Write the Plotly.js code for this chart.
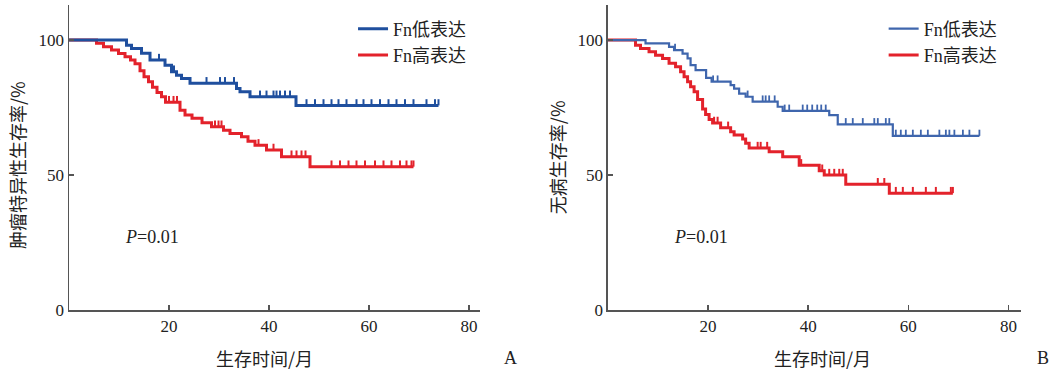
<!DOCTYPE html>
<html>
<head>
<meta charset="utf-8">
<script src="https://cdn.plot.ly/plotly-3.0.1.min.js"></script>
<style>html,body{margin:0;padding:0;background:#fff;}#chart{width:1057px;height:375px;}</style>
</head>
<body>
<div id="chart"></div>
<script>
// ---------- Data ----------
const seriesNames = ["Fn低表达", "Fn高表达"];
const xTickVals = [20, 40, 60, 80];
const yTickVals = [0, 50, 100];
const pLabel = "P=0.01";

// Panel A: 肿瘤特异性生存率
const A_low_times = [11.5, 12.5, 14.5, 16.2, 19.2, 20.5, 21.5, 22.5, 24.2, 33.5, 34.2, 36.2, 45.4];
const A_low_surv  = [98.1, 96.9, 95.1, 92.6, 90.7, 88.3, 87.0, 85.8, 84.0, 82.1, 80.9, 79.0, 75.8];
const A_low_censor = [18.0, 21.0, 27.5, 30.2, 31.2, 33.0, 38.2, 39.5, 40.9, 41.5, 42.2, 43.2, 44.2,
  47.5, 49.2, 50.9, 52.5, 53.9, 55.5, 57.5, 58.9, 60.5, 62.2, 63.9, 65.5, 67.2, 68.9, 71.5, 73.2, 73.9];

const A_high_times = [5.5, 6.9, 8.5, 9.9, 11.2, 12.3, 13.2, 14.2, 15.0, 15.9, 16.7, 17.6, 18.5, 19.3,
  22.2, 23.2, 24.6, 26.6, 28.5, 30.9, 32.2, 34.5, 35.8, 37.2, 39.5, 42.5, 48.2];
const A_high_surv  = [98.8, 97.5, 96.3, 95.0, 93.8, 92.6, 91.2, 88.6, 86.4, 84.6, 82.5, 80.6, 79.0, 77.0,
  74.0, 72.2, 71.0, 69.4, 67.9, 66.6, 65.4, 64.2, 62.5, 61.0, 59.3, 56.8, 53.1];
const A_high_censor = [20.0, 20.9, 21.6, 29.2, 29.9, 30.5, 37.9, 40.9, 44.5, 45.5, 46.5, 47.3,
  52.5, 54.2, 55.9, 57.5, 59.2, 61.2, 62.9, 64.5, 66.2, 67.5, 68.5, 68.9];

// Panel B: 无病生存率
const B_low_times = [7.5, 12.2, 13.2, 14.9, 15.9, 16.5, 17.5, 19.6, 20.7, 24.5, 25.2, 26.2, 27.5, 28.9, 33.9, 34.9, 44.2, 45.9, 56.9];
const B_low_surv  = [98.8, 97.5, 96.3, 95.0, 93.2, 90.7, 88.9, 86.0, 84.6, 83.3, 82.0, 80.2, 79.0, 77.2, 75.3, 73.8, 72.2, 68.8, 64.5];
const B_low_censor = [13.4, 21.0, 21.9, 27.9, 30.9, 31.5, 32.2, 33.3, 35.3, 36.2, 38.9, 39.8, 40.8, 41.8, 42.6, 43.5,
  47.5, 48.9, 50.9, 53.2, 53.9, 55.5, 56.2, 57.5, 58.5, 59.5, 60.9, 62.5, 63.9, 66.2, 67.5, 68.2, 69.2, 70.9, 72.2, 74.2];

const B_high_times = [5.5, 6.5, 8.2, 9.5, 10.9, 12.2, 13.5, 14.5, 15.2, 15.9, 16.5, 17.2, 17.9, 18.9, 19.5, 20.2, 20.9,
  22.5, 24.5, 25.2, 26.9, 27.5, 28.2, 32.2, 34.9, 38.2, 42.2, 43.2, 47.5, 56.2];
const B_high_surv  = [98.1, 96.9, 95.7, 94.4, 93.2, 91.4, 90.1, 88.3, 86.4, 84.6, 82.7, 80.9, 78.0, 74.5, 72.4, 70.6, 69.3,
  67.5, 66.0, 64.8, 63.4, 61.8, 60.0, 58.6, 56.8, 53.6, 51.6, 50.0, 46.6, 43.3];
const B_high_censor = [21.2, 21.9, 24.0, 29.9, 30.5, 31.8, 38.6, 42.8, 44.2, 45.2, 46.2, 46.9, 53.9, 55.2,
  57.5, 58.9, 60.9, 63.5, 65.5, 68.5, 68.9];

// ---------- Helpers ----------
function stepAt(times, surv, t) {
  let v = 100;
  for (let i = 0; i < times.length; i++) { if (times[i] <= t) v = surv[i]; }
  return v;
}
function curveTrace(times, surv, censor, name, color, width, xa, ya, legend, rank) {
  const end = Math.max(censor[censor.length - 1], times[times.length - 1]);
  return {
    x: [0].concat(times, [end]),
    y: [100].concat(surv, [surv[surv.length - 1]]),
    type: 'scatter', mode: 'lines', line: {shape: 'hv', color: color, width: width},
    name: name, xaxis: xa, yaxis: ya, legend: legend, legendrank: rank, hoverinfo: 'skip'
  };
}
function censorTrace(times, surv, censor, color, thick, xa, ya) {
  return {
    x: censor.slice(),
    y: censor.map(t => stepAt(times, surv, t)),
    type: 'scatter', mode: 'markers', marker: {size: 1, color: color, opacity: 0},
    error_y: {type: 'data', symmetric: false, array: censor.map(() => 2.3), arrayminus: censor.map(() => 0),
              width: 0, thickness: thick, color: color},
    showlegend: false, xaxis: xa, yaxis: ya, hoverinfo: 'skip'
  };
}

const BLUE_A = '#1f4f9e', RED = '#e3222b', BLUE_B = '#3f66ad';

const traces = [
  curveTrace(A_high_times, A_high_surv, A_high_censor, seriesNames[1], RED, 3, 'x', 'y', 'legend', 2),
  censorTrace(A_high_times, A_high_surv, A_high_censor, RED, 2, 'x', 'y'),
  curveTrace(A_low_times, A_low_surv, A_low_censor, seriesNames[0], BLUE_A, 3, 'x', 'y', 'legend', 1),
  censorTrace(A_low_times, A_low_surv, A_low_censor, BLUE_A, 2, 'x', 'y'),
  curveTrace(B_high_times, B_high_surv, B_high_censor, seriesNames[1], RED, 3, 'x2', 'y2', 'legend2', 2),
  censorTrace(B_high_times, B_high_surv, B_high_censor, RED, 2, 'x2', 'y2'),
  curveTrace(B_low_times, B_low_surv, B_low_censor, seriesNames[0], BLUE_B, 2.2, 'x2', 'y2', 'legend2', 1),
  censorTrace(B_low_times, B_low_surv, B_low_censor, BLUE_B, 1.8, 'x2', 'y2')
];

const tickFont = {family: 'Liberation Serif, serif', size: 17, color: '#222'};
function xax(domain, range, anchor) {
  return {domain: domain, range: range, anchor: anchor, tickvals: xTickVals, ticktext: xTickVals.map(String),
    ticks: 'inside', ticklen: 5, tickwidth: 1.5, tickcolor: '#555', showline: true, linecolor: '#555', linewidth: 1.5,
    showgrid: false, zeroline: false, tickfont: tickFont, fixedrange: true};
}
function yax(anchor) {
  return {domain: [0.1733, 0.9867], range: [0, 113], anchor: anchor, tickvals: yTickVals, ticktext: yTickVals.map(String),
    ticks: 'inside', ticklen: 5, tickwidth: 1.5, tickcolor: '#555', showline: true, linecolor: '#555', linewidth: 1.5,
    showgrid: false, zeroline: false, tickfont: tickFont, fixedrange: true};
}
const legFont = {family: 'Liberation Serif, Noto Sans CJK SC, serif', size: 18, color: '#222'};
const cjk = {family: 'Noto Sans CJK SC, sans-serif', size: 18, color: '#222'};
const serif18 = {family: 'Liberation Serif, serif', size: 18, color: '#222'};

const layout = {
  width: 1057, height: 375, margin: {l: 0, r: 0, t: 0, b: 0},
  paper_bgcolor: '#fff', plot_bgcolor: '#fff',
  xaxis: xax([0.0653, 0.4541], [0, 82.2], 'y'),
  yaxis: yax('x'),
  xaxis2: xax([0.5752, 0.9659], [0, 82.5], 'y2'),
  yaxis2: yax('x2'),
  legend: {x: 0.334, y: 0.972, xanchor: 'left', yanchor: 'top', font: legFont, bgcolor: 'rgba(0,0,0,0)'},
  legend2: {x: 0.836, y: 0.972, xanchor: 'left', yanchor: 'top', font: legFont, bgcolor: 'rgba(0,0,0,0)'},
  annotations: [
    {text: '<i>P</i>=0.01', x: 0.1164, y: 0.368, xref: 'paper', yref: 'paper', xanchor: 'left', yanchor: 'middle', showarrow: false, font: serif18},
    {text: '<i>P</i>=0.01', x: 0.6358, y: 0.368, xref: 'paper', yref: 'paper', xanchor: 'left', yanchor: 'middle', showarrow: false, font: serif18},
    {text: '生存时间/月', x: 0.2507, y: 0.0453, xref: 'paper', yref: 'paper', xanchor: 'center', yanchor: 'middle', showarrow: false, font: cjk},
    {text: '生存时间/月', x: 0.7786, y: 0.0453, xref: 'paper', yref: 'paper', xanchor: 'center', yanchor: 'middle', showarrow: false, font: cjk},
    {text: '肿瘤特异性生存率/%', x: 0.0161, y: 0.56, xref: 'paper', yref: 'paper', xanchor: 'center', yanchor: 'middle', textangle: -90, showarrow: false, font: cjk},
    {text: '无病生存率/%', x: 0.527, y: 0.581, xref: 'paper', yref: 'paper', xanchor: 'center', yanchor: 'middle', textangle: -90, showarrow: false, font: cjk},
    {text: 'A', x: 0.4825, y: 0.0453, xref: 'paper', yref: 'paper', xanchor: 'center', yanchor: 'middle', showarrow: false, font: serif18},
    {text: 'B', x: 0.9868, y: 0.0453, xref: 'paper', yref: 'paper', xanchor: 'center', yanchor: 'middle', showarrow: false, font: serif18}
  ],
  showlegend: true
};

Plotly.newPlot('chart', traces, layout, {displayModeBar: false, staticPlot: true});
</script>
</body>
</html>
